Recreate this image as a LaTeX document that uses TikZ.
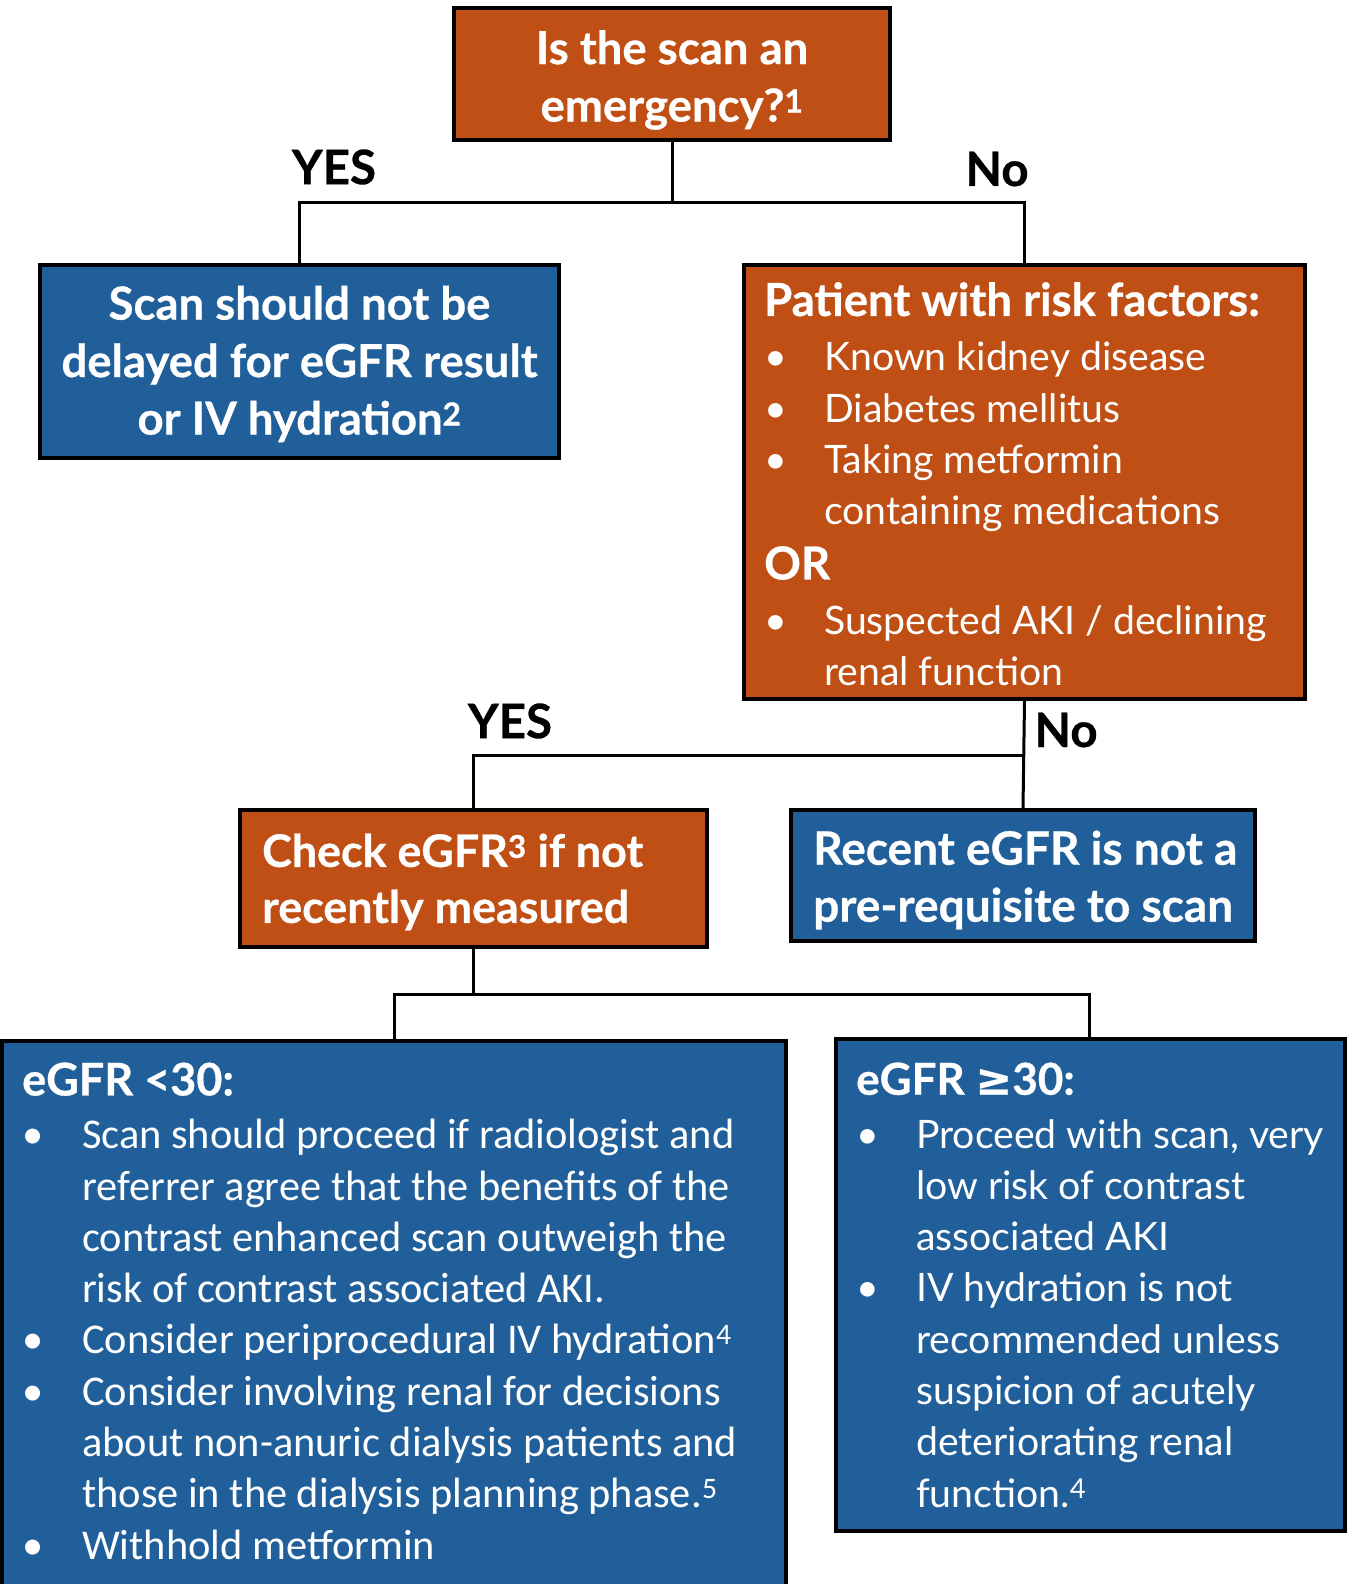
\documentclass[tikz,border=0pt]{standalone}
\usepackage{fontspec}
\usetikzlibrary{calc}
\setmainfont{Lato}[BoldFeatures={FakeBold=0.6}]
\newfontfamily\narrowfont{Carlito}
\newfontfamily\symfont{DejaVu Sans}[FakeBold=0.6]
\definecolor{orng}{RGB}{192,79,21}
\definecolor{blu}{RGB}{33,95,154}
\newcommand\bul{\makebox[60pt][l]{•}}
\newcommand\ind{\hspace*{60pt}}
\tikzset{
  box/.style={draw=black, line width=3.5pt, rectangle, inner sep=0pt},
  obox/.style={box, fill=orng},
  bbox/.style={box, fill=blu},
  wtxt/.style={text=white, inner sep=0pt, align=left},
  headtxt/.style={text=white, inner sep=0pt, font={\fontsize{45.5}{57.5}\selectfont\bfseries}},
  listtxt/.style={wtxt, font={\fontsize{39.2}{51.3}\selectfont}},
  narrowtxt/.style={wtxt, font={\narrowfont\fontsize{42.4}{51.3}\selectfont}},
  lbl/.style={font={\fontsize{47.5}{50}\selectfont\bfseries}, text=black, inner sep=0pt},
  conn/.style={draw=black, line width=3pt},
}
\newcommand\hd[2]{{\rmfamily\bfseries\fontsize{#1}{51.3}\selectfont #2}}
\begin{document}
\begin{tikzpicture}[x=1pt,y=-1pt]
\useasboundingbox (0,0) rectangle (1352,1584);
\fill[white] (0,0) rectangle (1352,1584);

% boxes
\node[obox, minimum width=436pt, minimum height=132pt] (q1) at (672,74) {};
\node[bbox, minimum width=519pt, minimum height=193pt] (b1) at (299.5,361.5) {};
\node[obox, minimum width=561pt, minimum height=434pt] (r1) at (1024.5,482) {};
\node[obox, minimum width=467pt, minimum height=137pt] (c1) at (473.5,878.5) {};
\node[bbox, minimum width=464pt, minimum height=131pt] (n1) at (1023,875.5) {};
\node[bbox, minimum width=784pt, minimum height=580pt] (L) at (394,1331) {};
\node[bbox, minimum width=509pt, minimum height=492pt] (R) at (1090.5,1285) {};

% texts
\node[headtxt, align=center] (q1t) at (672,80)
  {Is the scan an\\emergency?\textsuperscript{1}};
\node[headtxt, align=center] (b1t) at (299.5,364)
  {Scan should not be\\delayed for eGFR result\\or IV hydration\textsuperscript{2}};
\node[listtxt, anchor=west] (r1t) at (764,484)
  {\hd{45.5}{Patient with risk factors:}\\[3.5pt]
   \bul Known kidney disease\\
   \bul Diabetes mellitus\\
   \bul Taking metformin\\
   \ind containing medications\\[3.5pt]
   \hd{45.5}{OR}\\[3.5pt]
   \bul Suspected AKI / declining\\
   \ind renal function};
\node[wtxt, anchor=west, font={\fontsize{44.8}{56}\selectfont\bfseries}] (c1t) at (262,882)
  {Check eGFR\textsuperscript{3} if not\\recently measured};
\node[wtxt, anchor=west, font={\fontsize{46}{57}\selectfont\bfseries}] (n1t) at (813,880)
  {Recent eGFR is not a\\pre-requisite to scan};
\node[narrowtxt, anchor=west] (Lt) at (22,1311)
  {\hd{45}{eGFR <30:}\\[2pt]
   \bul Scan should proceed if radiologist and\\
   \ind referrer agree that the benefits of the\\
   \ind contrast enhanced scan outweigh the\\
   \ind risk of contrast associated AKI.\\
   \bul Consider periprocedural IV hydration\textsuperscript{4}\\
   \bul Consider involving renal for decisions\\
   \ind about non-anuric dialysis patients and\\
   \ind those in the dialysis planning phase.\textsuperscript{5}\\
   \bul Withhold metformin};
\node[listtxt, anchor=west] (Rt) at (856,1285)
  {\hd{44}{eGFR {\symfont\bfseries ≥}30:}\\[2pt]
   \bul Proceed with scan, very\\
   \ind low risk of contrast\\
   \ind associated AKI\\
   \bul IV hydration is not\\
   \ind recommended unless\\
   \ind suspicion of acutely\\
   \ind deteriorating renal\\
   \ind function.\textsuperscript{4}};

% connectors
\coordinate (j1) at ($(q1.south)+(0,61)$);
\draw[conn] (q1.south) -- (j1);
\draw[conn] (j1) -| (b1.north);
\draw[conn] (j1) -| (r1.north);
\coordinate (j2) at (r1.south |- 0,755);
\draw[conn] (r1.south) -- (n1.north);
\draw[conn] (j2) -| (c1.north);
\coordinate (j3) at (c1.south |- 0,994);
\draw[conn] (c1.south) -- (j3);
\draw[conn] (j3) -| (L.north);
\draw[conn] (j3) -| ([xshift=-1.5pt]R.north);

% labels
\node[lbl] (yes1) at (334,167) {YES};
\node[lbl] (no1) at (997,169) {No};
\node[lbl] (yes2) at (510,721) {YES};
\node[lbl] (no2) at (1066,730) {No};
\end{tikzpicture}
\end{document}
